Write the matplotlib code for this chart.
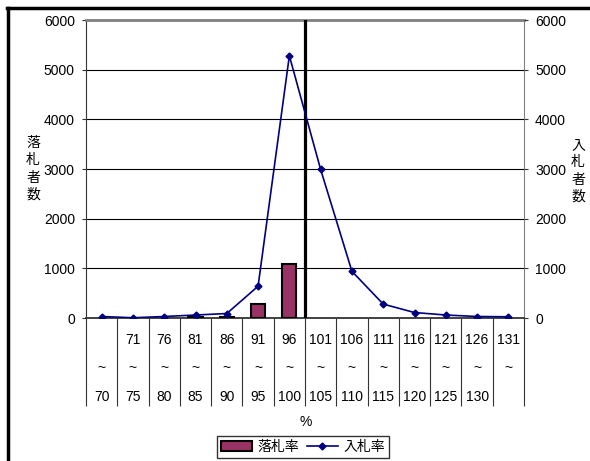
import matplotlib
matplotlib.use('Agg')
import matplotlib.pyplot as plt
from matplotlib.patches import Patch
from matplotlib.lines import Line2D
import numpy as np

plt.rcParams['font.family'] = ['Liberation Sans', 'Noto Sans CJK JP']
plt.rcParams['font.size'] = 10

# rate classes (%): lower / upper bound of each class
lower = ['', '71', '76', '81', '86', '91', '96', '101', '106', '111', '116', '121', '126', '131']
upper = ['70', '75', '80', '85', '90', '95', '100', '105', '110', '115', '120', '125', '130', '']

winners = [0, 0, 0, 30, 25, 290, 1080, 0, 0, 0, 0, 0, 0, 0]          # 落札率 (left axis)
bidders = [30, 5, 30, 60, 90, 640, 5280, 2990, 940, 280, 110, 60, 30, 25]  # 入札率 (right axis)

W, H = 590, 461
fig = plt.figure(figsize=(W / 100, H / 100), dpi=100)
ax = fig.add_axes([86 / W, 1 - 318 / H, (524 - 86) / W, (318 - 20) / H])

x = np.arange(len(lower))
w = np.array(winners)
nz = w > 0   # empty classes get no bar (else the edge shows as a stub)
ax.bar(x[nz], w[nz], width=0.45, color='#993366', edgecolor='black', linewidth=1.5, zorder=3)

ax.set_xlim(-0.5, len(lower) - 0.5)
ax.set_ylim(0, 6000)
ax.set_yticks(range(0, 6001, 1000))
for yv in range(1000, 6000, 1000):
    ax.axhline(yv, color='black', lw=0.8, zorder=1)
ax.axvline(6.5, color='black', lw=2.3, zorder=4)

# spines
ax.spines['top'].set_color('#808080')
ax.spines['top'].set_linewidth(2)
ax.spines['left'].set_color('#333333')
ax.spines['right'].set_color('#808080')
ax.spines['bottom'].set_color('#333333')
ax.spines['bottom'].set_linewidth(1.3)
ax.tick_params(axis='y', length=3, pad=5, color='#333333')

# category "table" below the axis
ax.set_xticks([])
ax.set_xticks(np.arange(-0.5, len(lower)), minor=True)
ax.tick_params(axis='x', which='minor', length=63, width=0.8, color='#333333', direction='out')
tr = ax.get_xaxis_transform()
for i in range(len(lower)):
    ax.text(x[i], -0.074, lower[i], transform=tr, ha='center', va='center')
    ax.text(x[i], -0.168, '~', transform=tr, ha='center', va='center')
    ax.text(x[i], -0.265, upper[i], transform=tr, ha='center', va='center')
fig.text(306 / W, 1 - 422 / H, '%', ha='center', va='center')

ax2 = ax.twinx()
ax2.plot(x, bidders, color='#000080', lw=1.2, marker='D', ms=3.5, zorder=5)
ax2.set_ylim(0, 6000)
ax2.set_yticks(range(0, 6001, 1000))
ax2.tick_params(axis='y', length=3, pad=5, color='#333333')
for s in ax2.spines.values():
    s.set_visible(False)

fig.text(33 / W, 1 - 169 / H, '落\n札\n者\n数', ha='center', va='center', linespacing=1.3)
fig.text(578 / W, 1 - 171 / H, '入\n札\n者\n数', ha='center', va='center', linespacing=1.3)

handles = [Patch(facecolor='#993366', edgecolor='black', linewidth=1.5),
           Line2D([], [], color='#000080', lw=1.2, marker='D', ms=3.5)]
leg = fig.legend(handles, ['落札率', '入札率'], loc='center', bbox_to_anchor=(303 / W, 1 - 447 / H),
                 ncol=2, frameon=True, fancybox=False, handlelength=2.2, handletextpad=0.4,
                 columnspacing=0.6, borderpad=0.3, borderaxespad=0)
leg.get_frame().set_edgecolor('black')
leg.get_frame().set_linewidth(1)

# outer frame (only left and top edges are visible)
fig.add_artist(Line2D([7.5 / W, 7.5 / W], [0, 1 - 8 / H], color='black', lw=2.5))
fig.add_artist(Line2D([6.5 / W, 1], [1 - 8.5 / H, 1 - 8.5 / H], color='black', lw=2.5))

fig.savefig('out.png', dpi=100)
